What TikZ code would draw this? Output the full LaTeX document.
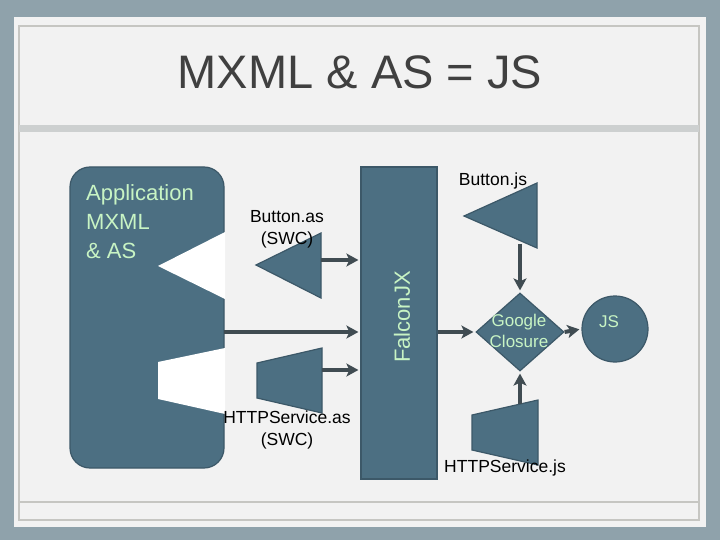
\documentclass[tikz,border=0pt]{standalone}
\usepackage{fontspec}
\setmainfont{Liberation Sans}
\usetikzlibrary{shapes.geometric, arrows.meta, positioning}
\definecolor{slatebg}{RGB}{143,162,171}
\definecolor{paper}{RGB}{242,242,242}
\definecolor{rulegray}{RGB}{198,198,194}
\definecolor{bandgray}{RGB}{205,208,208}
\definecolor{tealblock}{RGB}{76,111,130}
\definecolor{tealedge}{RGB}{60,88,104}
\definecolor{mint}{RGB}{200,244,196}
\definecolor{arrowgray}{RGB}{64,76,82}
\definecolor{titlegray}{RGB}{64,64,64}

\tikzset{
  block/.style={fill=tealblock, draw=tealedge, line width=1.2pt},
  flow/.style={draw=arrowgray, line width=4pt, shorten >=2pt,
    -{Stealth[length=12pt, width=13pt, inset=3pt]}},
  mintlabel/.style={text=mint, align=center, inner sep=0pt},
  filelabel/.style={font=\fontsize{17.5}{22}\selectfont, align=center, inner sep=0pt}
}

\begin{document}
\begin{tikzpicture}[x=1pt, y=-1pt]
  % slide frame
  \fill[slatebg] (0,0) rectangle (720,540);
  \fill[paper] (14,17) rectangle (706,527);
  \draw[rulegray, line width=1.5pt] (19,26) rectangle (699,520);
  \fill[bandgray] (19,125) rectangle (699,132);
  \draw[rulegray, line width=1.5pt] (19,502) -- (699,502);
  \useasboundingbox (0,0) rectangle (720,540);

  \node[font=\fontsize{47}{52}\selectfont, text=titlegray] (title) at (360,72) {MXML \& AS = JS};

  % application block with its two sockets
  \draw[block, rounded corners=20pt] (70,167) rectangle (224,468);
  \fill[white] (225,232) -- (158,266) -- (225,299) -- cycle;
  \fill[white] (225,348) -- (158,362) -- (158,399) -- (225,414) -- cycle;
  \node[mintlabel, align=left, anchor=north west, font=\fontsize{22}{29}\selectfont]
    (app) at (86,184) {Application\\MXML\\\& AS};
  \coordinate (appout) at (224,332);

  % compiler
  \node[block, minimum width=76pt, minimum height=312pt, inner sep=0pt] (falcon) at (399,323) {};
  \node[mintlabel, rotate=90, font=\fontsize{22}{26}\selectfont] (falconlbl) at (402,317) {FalconJX};

  % SWC inputs
  \draw[block] (256,265) -- (321,233) -- (321,298) -- cycle;
  \coordinate (btnas) at (321,260);
  \node[filelabel] (btnaslbl) at (287,229) {Button.as\\(SWC)};

  \draw[block] (257,363) -- (322,348) -- (322,413) -- (257,398) -- cycle;
  \coordinate (httpas) at (322,370);
  \node[filelabel] (httpaslbl) at (287,430) {HTTPService.as\\(SWC)};

  \draw[flow] (btnas) -- (btnas -| falcon.west);
  \draw[flow] (appout) -- (appout -| falcon.west);
  \draw[flow] (httpas) -- (httpas -| falcon.west);

  % closure and output
  \node[block, diamond, minimum width=88pt, minimum height=78pt, inner sep=0pt] (closure) at (520,332) {};
  \node[mintlabel, font=\fontsize{17}{21}\selectfont] (closurelbl) at (519,331) {Google\\Closure};

  \node[block, circle, minimum size=66pt, inner sep=0pt] (js) at (615,329) {};
  \node[mintlabel, font=\fontsize{17}{21}\selectfont] (jslbl) at (609,322) {JS};

  % JS pieces
  \draw[block] (464,216) -- (537,183) -- (537,248) -- cycle;
  \coordinate (btnjs) at (520,244);
  \node[filelabel] (btnjslbl) at (493,181) {Button.js};

  \draw[block] (472,415) -- (538,400) -- (538,465) -- (472,450) -- cycle;
  \coordinate (httpjs) at (520,404);
  \node[filelabel] (httpjslbl) at (505,468) {HTTPService.js};

  \draw[flow] (btnjs) -- (closure.north);
  \draw[flow] (httpjs) -- (closure.south);
  \draw[flow] (falcon.east |- closure) -- (closure.west);
  \draw[flow] (closure.east) -- (js.west);
\end{tikzpicture}
\end{document}
